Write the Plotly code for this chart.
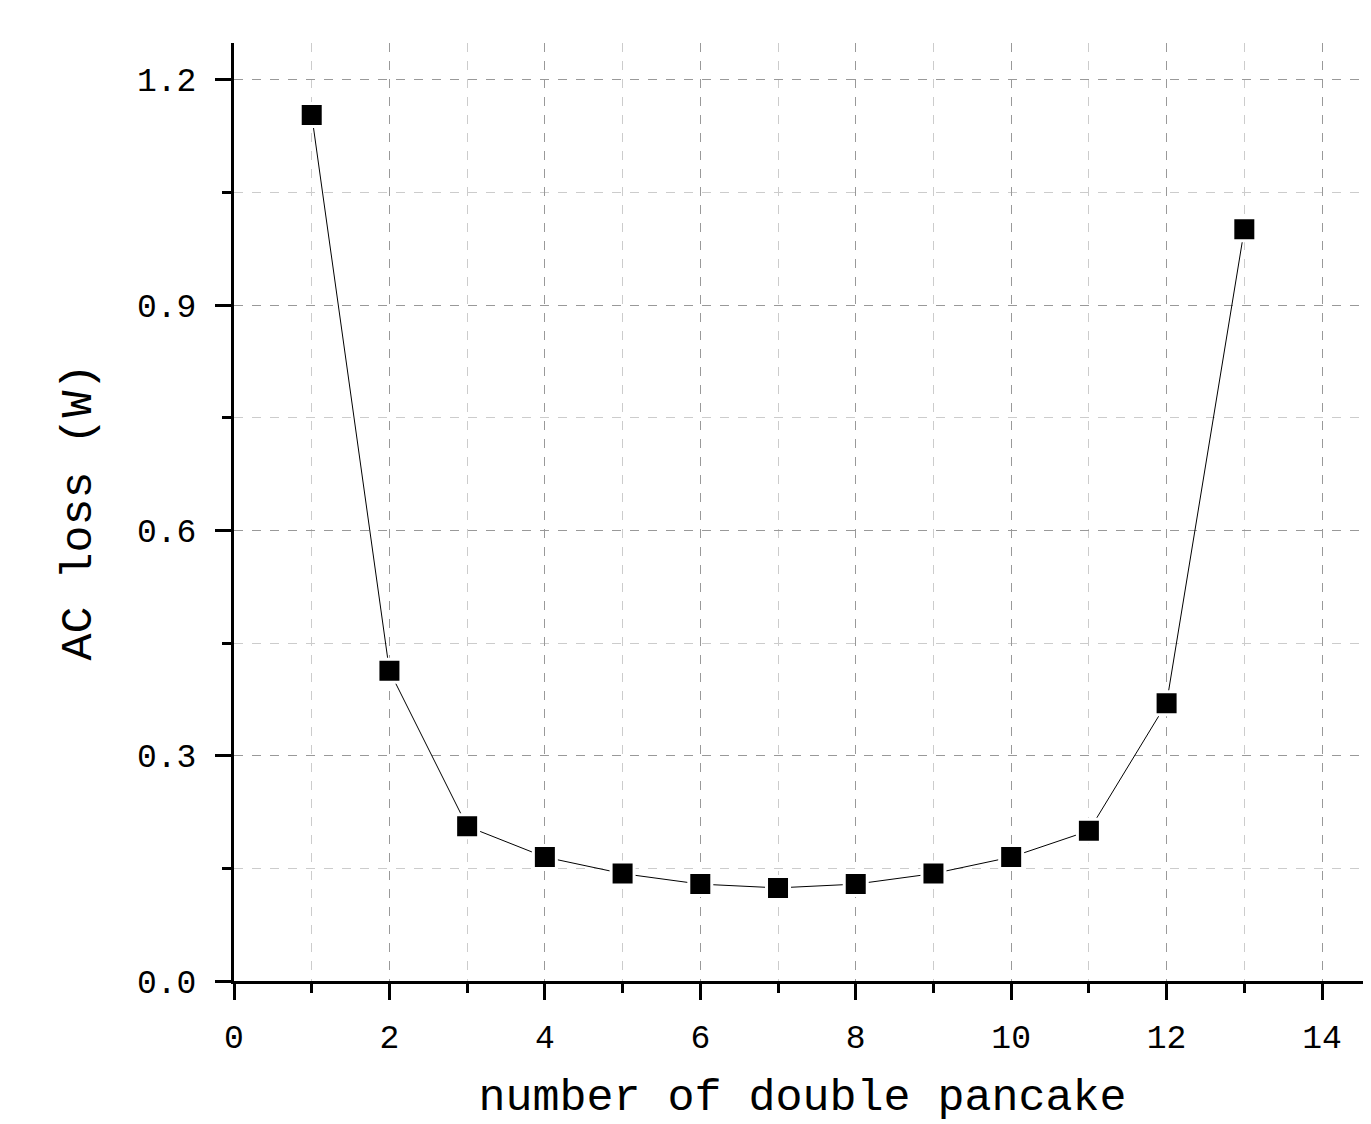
import plotly.graph_objects as go

x_vals = [1, 2, 3, 4, 5, 6, 7, 8, 9, 10, 11, 12, 13]
ac_loss = [1.153, 0.413, 0.206, 0.165, 0.143, 0.129, 0.124, 0.129, 0.143, 0.165, 0.200, 0.370, 1.001]

x_ticks = [0, 2, 4, 6, 8, 10, 12, 14]
y_ticks = [0.0, 0.3, 0.6, 0.9, 1.2]

FONT = "Liberation Mono"

fig = go.Figure()
fig.add_trace(go.Scatter(
    x=x_vals, y=ac_loss, mode="lines+markers",
    line=dict(color="black", width=1),
    marker=dict(symbol="square", size=23, color="black",
                line=dict(color="white", width=3)),
    showlegend=False,
))

axis_common = dict(
    showline=True, linecolor="black", linewidth=3,
    ticks="outside", ticklen=16, tickwidth=3, tickcolor="black",
    showgrid=True, gridcolor="#999999", griddash="dash", gridwidth=1,
    zeroline=False, automargin=False,
    tickfont=dict(family=FONT, size=33, color="black"),
)

fig.update_xaxes(
    **axis_common,
    range=[0, 14.63], tickvals=x_ticks,
    minor=dict(dtick=1, tick0=1, ticklen=9, tickwidth=3, tickcolor="black",
               ticks="outside", showgrid=True, gridcolor="#cccccc",
               griddash="dash", gridwidth=1),
    title=dict(text="number of double pancake",
               font=dict(family=FONT, size=45, color="black"), standoff=26),
    ticklabelstandoff=8,
)
fig.update_yaxes(
    **axis_common,
    range=[0, 1.249], tickvals=y_ticks, tickformat=".1f",
    minor=dict(dtick=0.15, tick0=0.15, ticklen=9, tickwidth=3, tickcolor="black",
               ticks="outside", showgrid=True, gridcolor="#cccccc",
               griddash="dash", gridwidth=1),
    title=dict(text="AC loss (W)",
               font=dict(family=FONT, size=45, color="black"), standoff=32),
    ticklabelstandoff=12,
)

fig.update_layout(
    width=1363, height=1116,
    margin=dict(l=226, r=0, t=35, b=143),
    plot_bgcolor="white", paper_bgcolor="white",
)

fig.write_html("out.html")
